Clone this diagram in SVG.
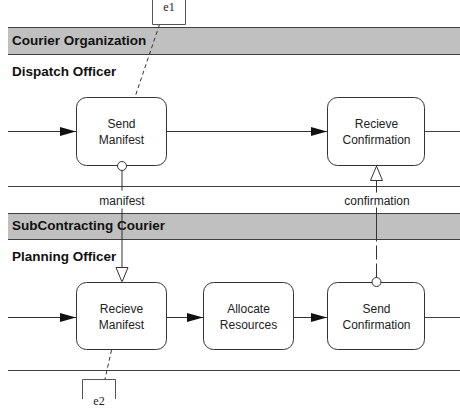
<svg xmlns="http://www.w3.org/2000/svg" width="460" height="412" viewBox="0 0 460 412">
<style>
.lane{stroke:#404040;stroke-width:1;fill:none}
.band{fill:#c0c0c0;stroke:none}
.hd{font-family:"Liberation Sans",Arial,sans-serif;font-weight:bold;font-size:13.5px;fill:#111}
.node rect{fill:#fff;stroke:#333;stroke-width:1}
.node text,.lbl{font-family:"Liberation Sans",Arial,sans-serif;font-size:12px;fill:#222;text-anchor:middle}
.flow{stroke:#333;stroke-width:1;fill:none;marker-end:url(#fa)}
.msg{stroke:#333;stroke-width:1;fill:none;marker-end:url(#oa)}
.assoc{stroke:#333;stroke-width:1;fill:none;stroke-dasharray:4 3}
.dot{fill:#fff;stroke:#333;stroke-width:1}
.ev{fill:none;stroke:#555;stroke-width:1}
.evt{font-family:"Liberation Serif","Times New Roman",serif;font-size:12px;fill:#222;text-anchor:middle}
</style>
<defs>
<marker id="fa" markerUnits="userSpaceOnUse" markerWidth="16" markerHeight="10" refX="16" refY="4.5" orient="auto">
<path d="M0,0 L16,4.5 L0,9 z" fill="#111"/>
</marker>
<marker id="oa" markerUnits="userSpaceOnUse" markerWidth="14" markerHeight="14" refX="15" refY="6.5" orient="auto">
<path d="M0.5,0.5 L15,6.5 L0.5,12.5 z" fill="#fff" stroke="#333" stroke-width="1"/>
</marker>
</defs>
<rect width="460" height="412" fill="#fff"/>
<g id="pools">
<rect class="band" x="8" y="27" width="452" height="27"/>
<rect class="band" x="8" y="213" width="452" height="26"/>
<path class="lane" d="M8,27.5H460M8,54.5H460M8,186.5H460M8,213.5H460M8,239.5H460M8,370.5H460"/>
<text class="hd" x="12" y="45">Courier Organization</text>
<text class="hd" x="12" y="76">Dispatch Officer</text>
<text class="hd" x="12" y="230">SubContracting Courier</text>
<text class="hd" x="12" y="261">Planning Officer</text>
</g>
<g id="connectors">
<path class="flow" d="M8,131.5H76"/>
<path class="flow" d="M167,131.5H327"/>
<path class="lane" d="M425,131.5H460"/>
<path class="flow" d="M8,317.5H76"/>
<path class="flow" d="M167,317.5H203"/>
<path class="flow" d="M294,317.5H327"/>
<path class="lane" d="M425,317.5H460"/>
<path class="msg" d="M122,170.5V282" stroke-dasharray="20 18 100"/>
<path class="msg" d="M376.5,277.5V166" stroke-dasharray="14 4 14 4 34 15 30"/>
<path class="assoc" d="M159.5,24.5L135,97"/>
<path class="assoc" d="M111.5,350L105,379"/>
</g>
<g id="e1">
<path class="ev" d="M152.5,0V24.5H185.5V0"/>
<text class="evt" x="169" y="11">e1</text>
</g>
<g id="e2">
<path class="ev" d="M82.5,399V379.5H115.5V399"/>
<text class="evt" x="99" y="405">e2</text>
</g>
<g id="sendManifest" class="node">
<rect x="76.5" y="97.5" width="90" height="68" rx="10"/>
<text x="121.5" y="128">Send</text>
<text x="121.5" y="144">Manifest</text>
<circle class="dot" cx="122" cy="166" r="4.5"/>
</g>
<g id="recieveConfirmation" class="node">
<rect x="327.5" y="97.5" width="97" height="68" rx="10"/>
<text x="376.5" y="128">Recieve</text>
<text x="376.5" y="144">Confirmation</text>
</g>
<g id="recieveManifest" class="node">
<rect x="76.5" y="282.5" width="90" height="67" rx="10"/>
<text x="121.5" y="312.5">Recieve</text>
<text x="121.5" y="328.5">Manifest</text>
</g>
<g id="allocateResources" class="node">
<rect x="203.5" y="282.5" width="90" height="67" rx="10"/>
<text x="248.5" y="312.5">Allocate</text>
<text x="248.5" y="328.5">Resources</text>
</g>
<g id="sendConfirmation" class="node">
<rect x="327.5" y="282.5" width="97" height="67" rx="10"/>
<text x="376.5" y="312.5">Send</text>
<text x="376.5" y="328.5">Confirmation</text>
<circle class="dot" cx="376.5" cy="282" r="4.5"/>
</g>
<g id="labels">
<text class="lbl" x="122" y="205">manifest</text>
<text class="lbl" x="377" y="205">confirmation</text>
</g>
</svg>
